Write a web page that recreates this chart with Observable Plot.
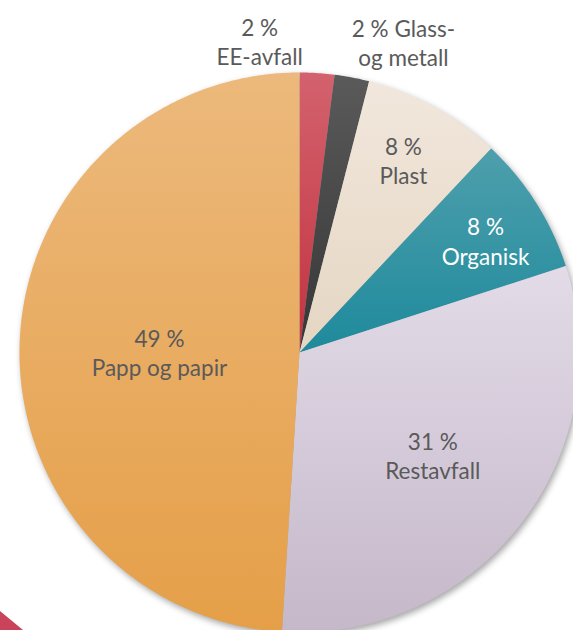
<!DOCTYPE html>
<html>
<head>
<meta charset="utf-8">
<script src="https://cdn.jsdelivr.net/npm/d3@7"></script>
<script src="https://cdn.jsdelivr.net/npm/@observablehq/plot@0.6"></script>
<style>
  html, body { margin: 0; padding: 0; background: #fff; width: 573px; height: 630px; overflow: hidden; }
  #chart { position: relative; width: 573px; height: 630px; }
  #corner { position: absolute; left: 0; top: 611px; width: 23px; height: 19px; background: #c9445a;
            clip-path: polygon(0 0, 100% 100%, 0 100%); }
</style>
</head>
<body>
<div id="chart"><div id="corner"></div></div>
<script>
// ---- data ----
const categories = ["EE-avfall", "Glass- og metall", "Plast", "Organisk", "Restavfall", "Papp og papir"];
const shares = [2, 2, 8, 8, 31, 49];
const labels = ["2 %\nEE-avfall", "2 % Glass-\nog metall", "8 %\nPlast", "8 %\nOrganisk", "31 %\nRestavfall", "49 %\nPapp og papir"];
const topColors = ["#d3626e", "#5a5a5a", "#f1e7dc", "#4e9fac", "#e3dbe8", "#ecb97c"];
const bottomColors = ["#c2323f", "#363636", "#e5d6c3", "#1e8a9c", "#c5b8c9", "#e59f48"];

// ---- layout (label placement in units of radius / degrees clockwise from top) ----
const labelPlace = {
  "EE-avfall": [1.12, -7.3],
  "Glass- og metall": [1.17, 18.5],
  "Plast": [0.78, 28.4],
  "Organisk": [0.775, 59],
  "Restavfall": [0.60, 127.5],
  "Papp og papir": [0.50, 270]
};
const labelFill = {"Organisk": "#ffffff"};

const total = d3.sum(shares);
const ends = d3.cumsum(shares);
const rad = d => d * Math.PI / 180;

const slicePts = [];
categories.forEach((c, i) => {
  const a0 = (ends[i] - shares[i]) / total * 360;
  const a1 = ends[i] / total * 360;
  slicePts.push({cat: c, x: 0, y: 0});
  const n = Math.max(4, Math.ceil((a1 - a0) / 0.5));
  for (let k = 0; k <= n; k++) {
    const a = rad(a0 + (a1 - a0) * k / n);
    slicePts.push({cat: c, x: Math.sin(a), y: Math.cos(a)});
  }
});

const labelData = categories.map((c, i) => {
  const [r, a] = labelPlace[c];
  return {cat: c, text: labels[i], x: r * Math.sin(rad(a)), y: r * Math.cos(rad(a)), fill: labelFill[c] || "#5a5a5a"};
});

const cx = 299, cy = 352, R = 280;
const svg = Plot.plot({
  width: 573,
  height: 630,
  margin: 0,
  style: {fontFamily: "Lato, 'Open Sans', sans-serif", background: "transparent", overflow: "hidden"},
  x: {domain: [-1, 1], range: [cx - R, cx + R], axis: null},
  y: {domain: [-1, 1], range: [cy + R, cy - R], axis: null},
  color: {domain: categories, range: categories.map((c, i) => `url(#grad${i})`)},
  marks: [
    Plot.line(slicePts, {x: "x", y: "y", z: "cat", fill: "cat", stroke: "none", curve: "linear-closed"}),
    Plot.text(labelData, {x: "x", y: "y", text: "text", fill: "fill", fontSize: 22.5, lineHeight: 1.3, textAnchor: "middle"})
  ]
});

// gradients
const ns = "http://www.w3.org/2000/svg";
const defs = document.createElementNS(ns, "defs");
categories.forEach((c, i) => {
  const g = document.createElementNS(ns, "linearGradient");
  g.setAttribute("id", `grad${i}`);
  g.setAttribute("x1", "0"); g.setAttribute("y1", "0");
  g.setAttribute("x2", "0"); g.setAttribute("y2", "1");
  [[0, topColors[i]], [1, bottomColors[i]]].forEach(([o, col]) => {
    const s = document.createElementNS(ns, "stop");
    s.setAttribute("offset", o);
    s.setAttribute("stop-color", col);
    g.appendChild(s);
  });
  defs.appendChild(g);
});
svg.insertBefore(defs, svg.firstChild);
const lineG = svg.querySelector('g[aria-label="line"]');
if (lineG) lineG.style.filter = "drop-shadow(2px 3px 3px rgba(0,0,0,0.35))";
svg.style.position = "absolute";
svg.style.left = "0"; svg.style.top = "0";
document.getElementById("chart").appendChild(svg);
</script>
</body>
</html>
